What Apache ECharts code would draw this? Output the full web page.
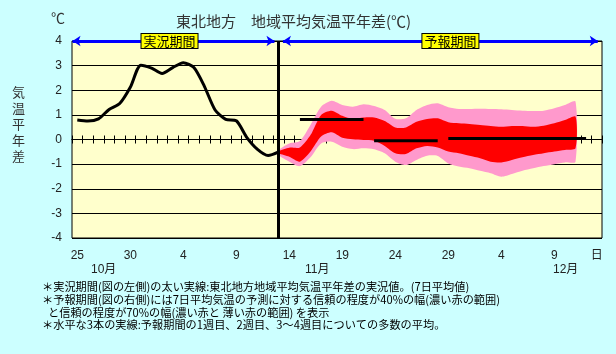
<!DOCTYPE html>
<html>
<head>
<meta charset="utf-8">
<script src="https://cdn.jsdelivr.net/npm/echarts@6/dist/echarts.min.js"></script>
<style>
html, body { margin: 0; padding: 0; background: #ccffff; }
#chart-container { width: 616px; height: 354px; }
</style>
</head>
<body>
<div id="chart-container"></div>
<script>
var dom = document.getElementById('chart-container');
var myChart = echarts.init(dom, null, { renderer: 'canvas' });

// day of month, Oct 25 .. Dec 13
var days = ['25','26','27','28','29','30','31',
  '1','2','3','4','5','6','7','8','9','10','11','12','13','14','15','16','17','18','19','20',
  '21','22','23','24','25','26','27','28','29','30',
  '1','2','3','4','5','6','7','8','9','10','11','12','13'];

// observed 7-day mean anomaly (index 0..19)
var observed = [0.79, 0.75, 0.84, 1.22, 1.46, 2.12, 3.02, 2.9, 2.68, 2.92, 3.12, 2.92, 2.15, 1.2, 0.82, 0.76, 0.08, -0.4, -0.65, -0.5];

// forecast band (index 19..47)
var bandStart = 19;
var pinkTop    = [-0.43, -0.16, -0.06, 0.59, 1.33, 1.57, 1.40, 1.33, 1.43, 1.36, 1.20, 0.84, 0.86, 1.20, 1.40, 1.47, 1.31, 1.24, 1.24, 1.25, 1.24, 1.23, 1.20, 1.17, 1.16, 1.17, 1.27, 1.40, 1.54];
var redTop     = [-0.47, -0.33, -0.32, 0.18, 1.00, 1.17, 0.96, 0.83, 0.89, 0.89, 0.75, 0.49, 0.49, 0.72, 0.83, 0.86, 0.70, 0.66, 0.63, 0.59, 0.55, 0.52, 0.55, 0.55, 0.52, 0.56, 0.66, 0.79, 0.93];
var redBottom  = [-0.56, -0.70, -0.90, -0.49, 0.12, 0.29, 0.07, 0.01, -0.02, -0.05, -0.26, -0.56, -0.59, -0.36, -0.26, -0.32, -0.49, -0.56, -0.66, -0.76, -0.90, -0.93, -0.83, -0.72, -0.63, -0.56, -0.49, -0.43, -0.36];
var pinkBottom = [-0.63, -0.90, -1.08, -0.72, -0.16, -0.09, -0.29, -0.39, -0.36, -0.40, -0.56, -0.90, -1.04, -0.83, -0.66, -0.67, -0.97, -1.10, -1.17, -1.27, -1.37, -1.51, -1.40, -1.27, -1.17, -1.08, -1.00, -0.93, -0.90];

// weekly ensemble means
var weekStart = [21, 28, 35];
var weekEnd = [27, 34, 48];
var weekMean = [0.81, -0.05, 0.04];

var notes = [
  '＊実況期間(図の左側)の太い実線:東北地方地域平均気温平年差の実況値。(7日平均値)',
  '＊予報期間(図の右側)には7日平均気温の予測に対する信頼の程度が40%の幅(濃い赤の範囲)',
  'と信頼の程度が70%の幅(濃い赤と 薄い赤の範囲) を表示',
  '＊水平な3本の実線:予報期間の1週目、2週目、3〜4週目についての多数の平均。'
];

var font = 'Liberation Sans, Noto Sans CJK JP, sans-serif';
var cjk = 'Noto Sans CJK JP, sans-serif';

// band drawn as one polygon through the axis scales
function bandSeries(lower, upper, color) {
  return {
    type: 'custom', xAxisIndex: 0, yAxisIndex: 0, z: 2, silent: true,
    data: lower.map(function (v, i) { return [bandStart + i, v, upper[i]]; }),
    encode: { x: 0, y: [1, 2] },
    renderItem: function (params, api) {
      if (params.dataIndex !== 0) return;
      var pts = [];
      for (var i = 0; i < upper.length; i++) pts.push(api.coord([bandStart + i, upper[i]]));
      for (var j = lower.length - 1; j >= 0; j--) pts.push(api.coord([bandStart + j, lower[j]]));
      return { type: 'polygon', shape: { points: pts, smooth: 0.25 }, style: { fill: color } };
    }
  };
}

var series = [
  bandSeries(pinkBottom, pinkTop, '#ff99cc'),
  bandSeries(redBottom, redTop, '#ff0000')
];

weekMean.forEach(function (m, i) {
  series.push({
    type: 'line', xAxisIndex: 0, symbol: 'none', z: 4,
    lineStyle: { color: '#000', width: 3 },
    data: [[weekStart[i], m], [weekEnd[i], m]]
  });
});

var blue = { color: '#0000ff', width: 3, type: 'solid' };
series.push({
  type: 'line', xAxisIndex: 0, symbol: 'none', smooth: 0.25, z: 5, clip: false,
  lineStyle: { color: '#000', width: 3 },
  data: observed.map(function (v, i) { return [i, v]; }),
  markLine: {
    silent: true, symbol: 'none', animation: false,
    label: { show: false },
    lineStyle: { type: 'solid' },
    data: [
      [{ coord: [bandStart, -4], lineStyle: { color: '#000', width: 3, type: 'solid' } }, { coord: [bandStart, 4] }],
      [{ coord: [-0.45, 4], symbol: 'arrow', symbolSize: 8, lineStyle: blue }, { coord: [18.6, 4], symbol: 'arrow', symbolSize: 8 }],
      [{ coord: [19.4, 4], symbol: 'arrow', symbolSize: 8, lineStyle: blue }, { coord: [49.1, 4], symbol: 'arrow', symbolSize: 8 }]
    ]
  },
  markPoint: {
    silent: true, symbolSize: 0, animation: false,
    label: {
      show: true, position: 'inside', color: '#000', fontFamily: cjk, fontSize: 13,
      backgroundColor: '#ffff00', borderColor: '#000', borderWidth: 1, padding: [1, 2, 0, 2],
      formatter: function (p) { return p.name; }
    },
    data: [
      { name: '実況期間', coord: [8.7, 4] },
      { name: '予報期間', coord: [35.2, 4] }
    ]
  }
});

// day ticks crossing the zero line (axis lifted from the bottom edge to y = 0)
var tickAxis = function (inside) {
  return {
    type: 'category', data: days, boundaryGap: true, position: 'bottom', offset: -98.5,
    axisLine: { show: true, onZero: false, lineStyle: { color: '#000', width: 1 } },
    axisTick: { show: true, interval: 0, length: 4, inside: inside, lineStyle: { color: '#000', width: 1 } },
    axisLabel: { show: false }, splitLine: { show: false }
  };
};

var option = {
  animation: false,
  backgroundColor: '#ccffff',
  title: {
    text: '東北地方　地域平均気温平年差(℃)',
    left: 171, top: 9,
    textStyle: { fontFamily: cjk, fontSize: 15, fontWeight: 'normal', color: '#333' }
  },
  grid: { left: 72, right: 14, top: 41, bottom: 116, show: true, backgroundColor: '#ffffcc', borderColor: '#000', borderWidth: 1 },
  xAxis: [
    { type: 'value', min: -0.5, max: 49.5, show: false, axisLine: { onZero: false } },
    {
      type: 'category', data: days, boundaryGap: true, position: 'bottom',
      axisLine: { show: false, onZero: false }, axisTick: { show: false }, splitLine: { show: false },
      axisLabel: {
        margin: 12, color: '#222', fontFamily: font, fontSize: 12,
        interval: function (i) { return i % 5 === 0 || i === days.length - 1; },
        formatter: function (v, i) { return i === days.length - 1 ? '日' : v; }
      }
    },
    tickAxis(false),
    tickAxis(true)
  ],
  yAxis: {
    type: 'value', min: -4, max: 4, interval: 1,
    axisLine: { show: false, onZero: false }, axisTick: { show: false },
    splitLine: { show: true, lineStyle: { color: '#000', width: 1 } },
    axisLabel: { margin: 10, color: '#222', fontFamily: font, fontSize: 12 }
  },
  graphic: [
    { type: 'text', left: 51, top: 11, style: { text: '℃', font: '14px ' + cjk, fill: '#333' } },
    { type: 'text', left: 12, top: 84, style: { text: '気\n温\n平\n年\n差', font: '13px ' + cjk, fill: '#333', lineHeight: 16 } },
    { type: 'text', left: 91, top: 264, style: { text: '10月', font: '12px ' + font, fill: '#222' } },
    { type: 'text', left: 305, top: 264, style: { text: '11月', font: '12px ' + font, fill: '#222' } },
    { type: 'text', left: 553, top: 264, style: { text: '12月', font: '12px ' + font, fill: '#222' } },
    { type: 'text', left: 42, top: 281, style: { text: notes[0], font: '11.2px ' + cjk, fill: '#000' } },
    { type: 'text', left: 42, top: 294, style: { text: notes[1], font: '11.2px ' + cjk, fill: '#000' } },
    { type: 'text', left: 48, top: 307, style: { text: notes[2], font: '11.2px ' + cjk, fill: '#000' } },
    { type: 'text', left: 42, top: 319, style: { text: notes[3], font: '11.2px ' + cjk, fill: '#000' } }
  ],
  series: series
};

myChart.setOption(option);
window.addEventListener('resize', myChart.resize);
</script>
</body>
</html>
